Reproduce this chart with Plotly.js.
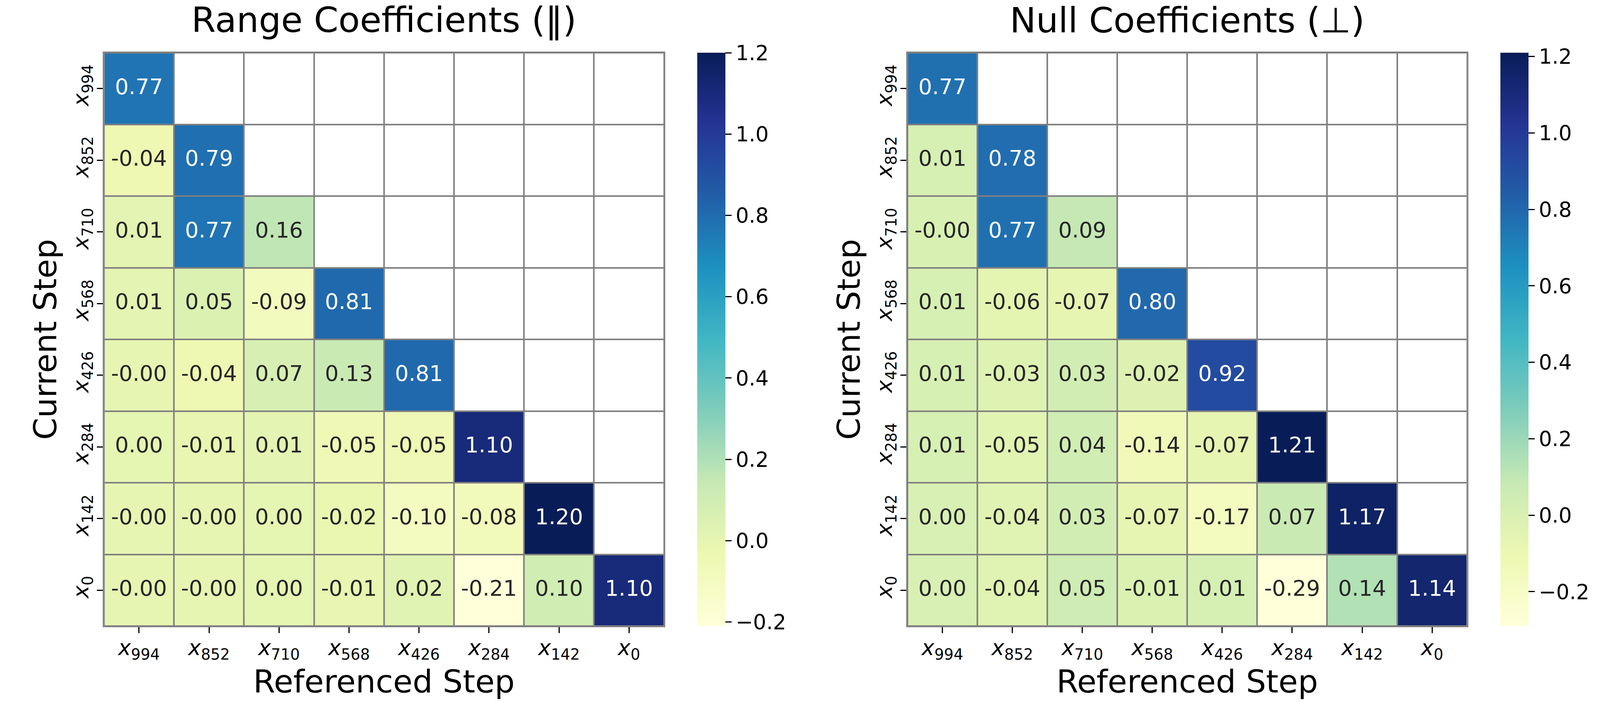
<!DOCTYPE html>
<html>
<head>
<meta charset="utf-8">
<script src="https://cdn.plot.ly/plotly-3.0.1.min.js"></script>
<style>html,body{margin:0;padding:0;background:#fff;overflow:hidden;}</style>
</head>
<body>
<div id="chart"></div>
<script>
// ---- data ----
const steps = ['994', '852', '710', '568', '426', '284', '142', '0'];
const tickLabels = steps.map(s => '<i>x</i><sub>' + s + '</sub>');

// lower-triangular rows (Current Step, top to bottom); columns = Referenced Step
const rangeCoef = [
  [0.77],
  [-0.04, 0.79],
  [0.01, 0.77, 0.16],
  [0.01, 0.05, -0.09, 0.81],
  [-0.002, -0.04, 0.07, 0.13, 0.81],
  [0.002, -0.01, 0.01, -0.05, -0.05, 1.10],
  [-0.002, -0.002, 0.002, -0.02, -0.10, -0.08, 1.20],
  [-0.002, -0.002, 0.002, -0.01, 0.02, -0.21, 0.10, 1.10]
];
const nullCoef = [
  [0.77],
  [0.01, 0.78],
  [-0.002, 0.77, 0.09],
  [0.01, -0.06, -0.07, 0.80],
  [0.01, -0.03, 0.03, -0.02, 0.92],
  [0.01, -0.05, 0.04, -0.14, -0.07, 1.21],
  [0.002, -0.04, 0.03, -0.07, -0.17, 0.07, 1.17],
  [0.002, -0.04, 0.05, -0.01, 0.01, -0.29, 0.14, 1.14]
];
const titles = ['Range Coefficients (\u2016)', 'Null Coefficients (\u22A5)'];
const xTitle = 'Referenced Step';
const yTitle = 'Current Step';

// ---- style (reference geometry in a 4200 x 1800 frame) ----
const REF_W = 4200, H = 1800;
const W = Math.min(REF_W, window.innerWidth || REF_W);
const kx = W / REF_W;
const fs = v => Math.round(v * Math.sqrt(kx) * 10) / 10;
const FONT = 'DejaVu Sans, sans-serif';
const YlGnBu = ['#ffffd9', '#edf8b1', '#c7e9b4', '#7fcdbb', '#41b6c4', '#1d91c0', '#225ea8', '#253494', '#081d58'];
const colorscale = YlGnBu.map((c, i) => [i / (YlGnBu.length - 1), c]);
const panels = [
  {x0: 273, x1: 1743, cbx: 1830},
  {x0: 2382, x1: 3851, cbx: 3939}
];
const yTop = 135, yBot = 1603;
const GRID = '#808080';

document.getElementById('chart').style.width = W + 'px';
document.getElementById('chart').style.height = H + 'px';

const n = steps.length;
const idx = steps.map((_, i) => i);
const datasets = [rangeCoef, nullCoef];

const traces = [];
const layout = {
  width: W, height: H,
  margin: {l: 0, r: 0, t: 0, b: 0},
  paper_bgcolor: '#ffffff',
  plot_bgcolor: GRID,
  font: {family: FONT, color: '#000'},
  showlegend: false,
  annotations: []
};

datasets.forEach((rows, p) => {
  const sfx = p === 0 ? '' : '2';
  const xa = 'x' + sfx, ya = 'y' + sfx;
  const z = idx.map(r => idx.map(c => (c <= r ? rows[r][c] : null)));
  const mask = idx.map(r => idx.map(c => (c > r ? 0 : null)));
  const flat = rows.flat();
  const zmin = Math.min(...flat), zmax = Math.max(...flat);

  // white masked (upper-triangle) cells
  traces.push({
    type: 'heatmap', x: idx, y: idx, z: mask, xaxis: xa, yaxis: ya,
    colorscale: [[0, '#ffffff'], [1, '#ffffff']], showscale: false,
    xgap: 4, ygap: 4, hoverinfo: 'skip'
  });
  // data cells
  traces.push({
    type: 'heatmap', x: idx, y: idx, z: z, xaxis: xa, yaxis: ya,
    colorscale: colorscale, zmin: zmin, zmax: zmax,
    xgap: 4, ygap: 4,
    colorbar: {
      x: panels[p].cbx / REF_W, xanchor: 'left', xref: 'paper',
      y: 1 - yBot / H, yanchor: 'bottom', yref: 'paper',
      len: yBot - yTop, lenmode: 'pixels',
      thickness: Math.round(74 * kx), thicknessmode: 'pixels',
      xpad: 0, ypad: 0, outlinewidth: 0,
      ticks: 'outside', ticklen: 16, tickwidth: 3, tickcolor: '#000',
      tick0: 0, dtick: 0.2, tickformat: '.1f',
      tickfont: {family: FONT, size: fs(54), color: '#000'}
    }
  });
  // cell annotations
  const tx = [], ty = [], tt = [], tc = [];
  rows.forEach((row, r) => row.forEach((v, c) => {
    tx.push(c); ty.push(r); tt.push(v.toFixed(2));
    tc.push((v - zmin) / (zmax - zmin) > 0.5 ? '#ffffff' : '#262626');
  }));
  traces.push({
    type: 'scatter', mode: 'text', x: tx, y: ty, text: tt,
    xaxis: xa, yaxis: ya, hoverinfo: 'skip', cliponaxis: false,
    textposition: 'middle center',
    textfont: {family: FONT, size: fs(56), color: tc}
  });

  const axCommon = {
    tickmode: 'array', tickvals: idx, ticktext: tickLabels,
    ticks: 'outside', ticklen: 15, tickwidth: 3, tickcolor: '#000',
    showgrid: false, zeroline: false,
    showline: true, mirror: true, linecolor: GRID, linewidth: 3,
    tickfont: {family: FONT, size: fs(56), color: '#000'},
    automargin: false, fixedrange: true
  };
  layout['xaxis' + sfx] = Object.assign({}, axCommon, {
    domain: [panels[p].x0 / REF_W, panels[p].x1 / REF_W],
    range: [-0.5, n - 0.5], anchor: ya,
    ticklabelstandoff: -10,
    title: {text: xTitle, font: {family: FONT, size: fs(82), color: '#000'}, standoff: 12}
  });
  layout['yaxis' + sfx] = Object.assign({}, axCommon, {
    domain: [1 - yBot / H, 1 - yTop / H],
    range: [n - 0.5, -0.5], anchor: xa, tickangle: -90,
    title: {text: yTitle, font: {family: FONT, size: fs(82), color: '#000'}, standoff: 4}
  });
  layout.annotations.push({
    text: titles[p], xref: 'paper', yref: 'paper',
    x: (panels[p].x0 + panels[p].x1) / 2 / REF_W, y: 1 - 52 / H,
    xanchor: 'center', yanchor: 'middle', showarrow: false,
    font: {family: FONT, size: fs(91), color: '#000'}
  });
});

Plotly.newPlot('chart', traces, layout, {staticPlot: true, displayModeBar: false});
</script>
</body>
</html>
